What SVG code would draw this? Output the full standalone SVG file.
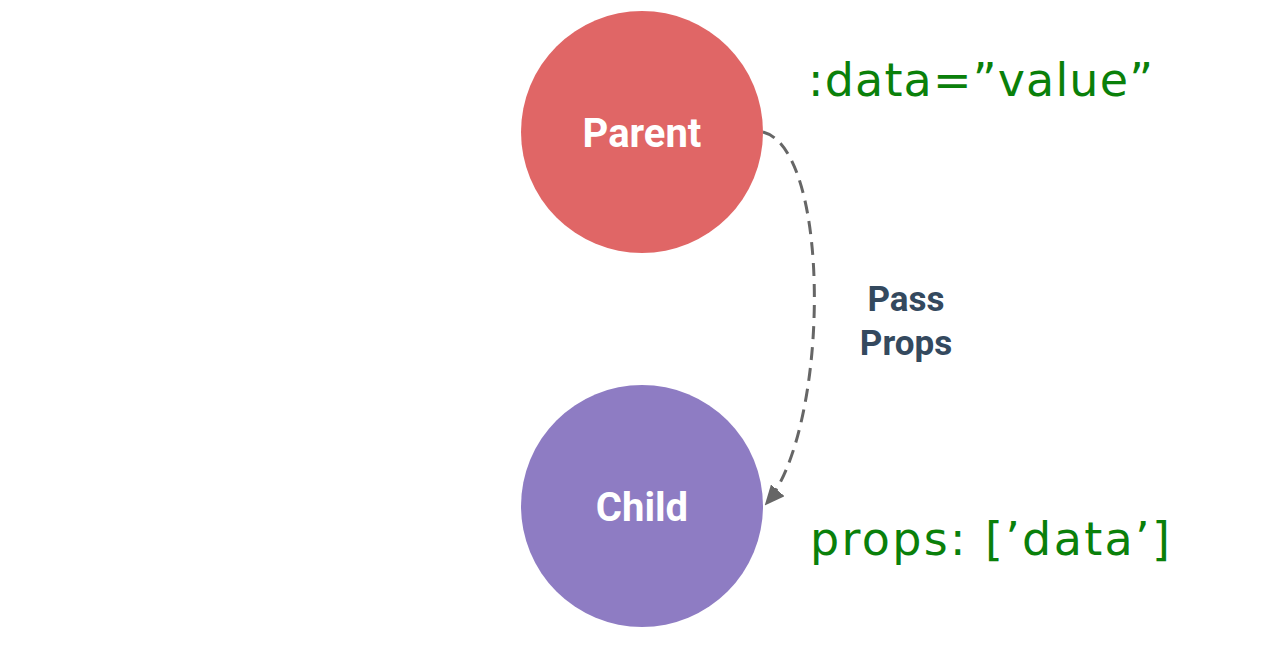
<svg xmlns="http://www.w3.org/2000/svg" width="1276" height="646" viewBox="0 0 1276 646">
<style>
.node-label{font-family:Roboto,"Liberation Sans",sans-serif;font-weight:700;font-size:40px;fill:#ffffff;text-anchor:middle}
.edge-label{font-family:Roboto,"Liberation Sans",sans-serif;font-weight:700;font-size:35px;fill:#34495e;text-anchor:middle}
.code{font-family:"DejaVu Sans","Liberation Sans",sans-serif;font-weight:400;font-size:46px;fill:#0a800a}
.edge{fill:none;stroke:#666666;stroke-width:3;stroke-dasharray:13 8}
</style>
<defs>
<marker id="arrow" markerWidth="20" markerHeight="18" refX="18" refY="9" orient="auto" markerUnits="userSpaceOnUse" viewBox="0 0 20 18">
<path d="M0,0 L20,9 L0,18 Z" fill="#666666"/>
</marker>
</defs>
<rect width="1276" height="646" fill="#ffffff"/>
<g id="connectors">
<path class="edge" d="M763,132 C832,150 830,430 766,504" marker-end="url(#arrow)"/>
<g id="label-pass-props">
<text class="edge-label" x="906" y="311">Pass</text>
<text class="edge-label" x="906" y="355">Props</text>
</g>
</g>
<g id="node-parent">
<circle cx="642" cy="132" r="121" fill="#e06666"/>
<text class="node-label" x="642" y="147">Parent</text>
</g>
<g id="node-child">
<circle cx="642" cy="506" r="121" fill="#8e7cc3"/>
<text class="node-label" x="642" y="521">Child</text>
</g>
<g id="code-parent">
<text class="code" x="808" y="96" textLength="345" lengthAdjust="spacing">:data=”value”</text>
</g>
<g id="code-child">
<text class="code" x="810" y="555" textLength="360" lengthAdjust="spacing">props: [’data’]</text>
</g>
</svg>
